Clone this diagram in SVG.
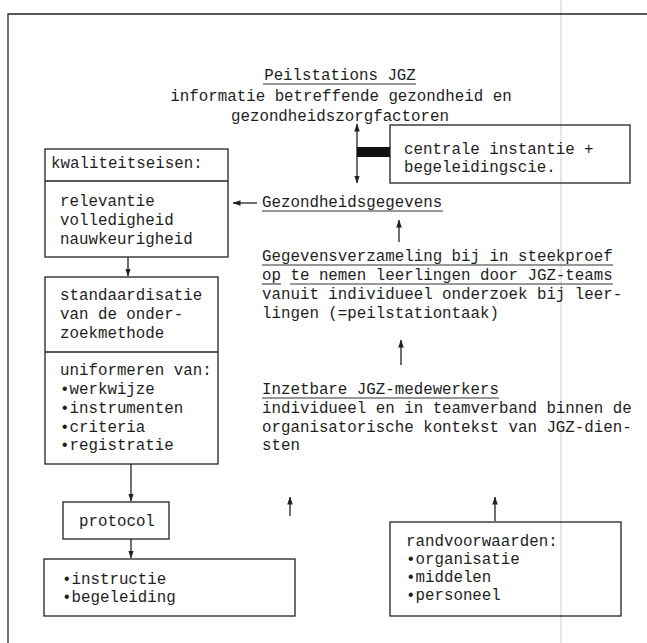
<svg xmlns="http://www.w3.org/2000/svg" width="647" height="643" viewBox="0 0 647 643">
<style>
  text { font-family: "Liberation Mono", "DejaVu Sans Mono", monospace; font-size: 15.8px; fill: #1e1e1e; }
  .box { fill: none; stroke: #222; stroke-width: 1.3; }
  .ln { stroke: #222; stroke-width: 1.3; fill: none; }
  .ul { stroke: #333; stroke-width: 1.1; }
  .mid { text-anchor: middle; }
</style>
<defs>
  <marker id="ah" viewBox="0 0 8 8" refX="7.5" refY="4" markerWidth="8" markerHeight="8" markerUnits="userSpaceOnUse" orient="auto-start-reverse">
    <path d="M0,1.2 L8,4 L0,6.8 Z" fill="#222"/>
  </marker>
</defs>
<rect width="647" height="643" fill="#ffffff"/>
<line x1="561" y1="0" x2="561" y2="643" stroke="#e6e6e6" stroke-width="2"/>
<g id="frame">
  <polyline class="ln" points="647,14 8,14 8,643"/>
</g>
<g id="title">
  <text class="mid" x="340" y="80">Peilstations JGZ</text>
  <line class="ul" x1="263" y1="84" x2="416" y2="84"/>
  <text class="mid" x="341" y="101">informatie betreffende gezondheid en</text>
  <text class="mid" x="340" y="121">gezondheidszorgfactoren</text>
</g>
<g id="kwaliteitseisen">
  <rect class="box" x="45" y="149" width="183" height="108"/>
  <line class="ln" x1="45" y1="181" x2="228" y2="181"/>
  <text x="51" y="168">kwaliteitseisen:</text>
  <text x="60" y="206">relevantie</text>
  <text x="60" y="225">volledigheid</text>
  <text x="60" y="244">nauwkeurigheid</text>
</g>
<g id="standaardisatie">
  <rect class="box" x="45" y="277" width="173" height="187"/>
  <line class="ln" x1="45" y1="352" x2="218" y2="352"/>
  <text x="60" y="300">standaardisatie</text>
  <text x="60" y="319">van de onder-</text>
  <text x="60" y="338">zoekmethode</text>
  <text x="60" y="375">uniformeren van:</text>
  <text x="60" y="394">•werkwijze</text>
  <text x="60" y="413">•instrumenten</text>
  <text x="60" y="432">•criteria</text>
  <text x="60" y="450">•registratie</text>
</g>
<g id="protocol">
  <rect class="box" x="63" y="502" width="106" height="37"/>
  <text x="79" y="526">protocol</text>
</g>
<g id="instructie">
  <rect class="box" x="44" y="559" width="251" height="57"/>
  <text x="62" y="584">•instructie</text>
  <text x="62" y="602">•begeleiding</text>
</g>
<g id="centrale">
  <rect class="box" x="390" y="125" width="240" height="58"/>
  <text x="404" y="154">centrale instantie +</text>
  <text x="404" y="172">begeleidingscie.</text>
</g>
<g id="gezondheidsgegevens">
  <text x="262" y="207">Gezondheidsgegevens</text>
  <line class="ul" x1="262" y1="211" x2="443" y2="211"/>
</g>
<g id="gegevensverzameling">
  <text x="262" y="261">Gegevensverzameling bij in steekproef</text>
  <line class="ul" x1="262" y1="265" x2="613" y2="265"/>
  <text x="262" y="280">op te nemen leerlingen door JGZ-teams</text>
  <line class="ul" x1="262" y1="284" x2="281" y2="284"/>
  <line class="ul" x1="290" y1="284" x2="613" y2="284"/>
  <text x="262" y="299">vanuit individueel onderzoek bij leer-</text>
  <text x="262" y="318">lingen (=peilstationtaak)</text>
</g>
<g id="medewerkers">
  <text x="262" y="394">Inzetbare JGZ-medewerkers</text>
  <line class="ul" x1="262" y1="398" x2="499" y2="398"/>
  <text x="262" y="413">individueel en in teamverband binnen de</text>
  <text x="262" y="432">organisatorische kontekst van JGZ-dien-</text>
  <text x="262" y="450">sten</text>
</g>
<g id="randvoorwaarden">
  <rect class="box" x="390" y="522" width="231" height="94"/>
  <text x="406" y="546">randvoorwaarden:</text>
  <text x="406" y="564">•organisatie</text>
  <text x="406" y="582">•middelen</text>
  <text x="406" y="600">•personeel</text>
</g>
<g id="connectors">
  <line class="ln" x1="357" y1="124" x2="357" y2="183" marker-start="url(#ah)" marker-end="url(#ah)"/>
  <rect x="357" y="147" width="33" height="10" fill="#111"/>
  <line class="ln" x1="257" y1="203" x2="233" y2="203" marker-end="url(#ah)"/>
  <line class="ln" x1="399" y1="242" x2="399" y2="220" marker-end="url(#ah)"/>
  <line class="ln" x1="401" y1="365" x2="401" y2="340" marker-end="url(#ah)"/>
  <line class="ln" x1="290" y1="516" x2="290" y2="497" marker-end="url(#ah)"/>
  <line class="ln" x1="495" y1="521" x2="495" y2="497" marker-end="url(#ah)"/>
  <line class="ln" x1="128" y1="257" x2="128" y2="276" marker-end="url(#ah)"/>
  <line class="ln" x1="131" y1="464" x2="131" y2="501" marker-end="url(#ah)"/>
  <line class="ln" x1="131" y1="539" x2="131" y2="558" marker-end="url(#ah)"/>
</g>
</svg>
